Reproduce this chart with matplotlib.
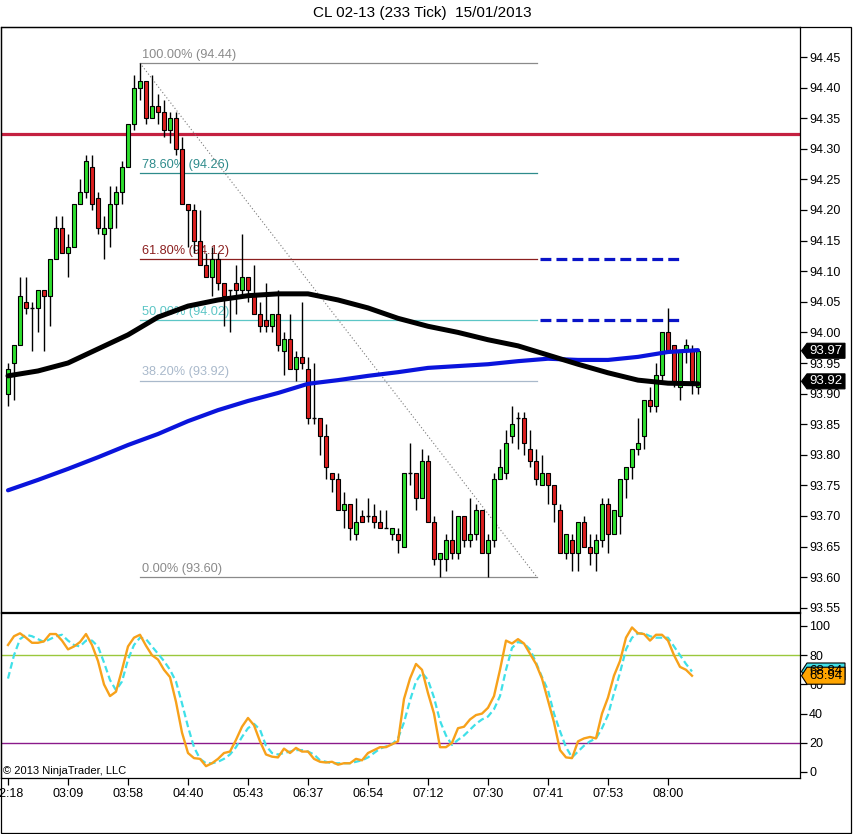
import matplotlib
matplotlib.use('Agg')
import matplotlib.pyplot as plt
import matplotlib.transforms as mtransforms
from matplotlib.patches import Polygon, Rectangle
import numpy as np

plt.rcParams['font.family'] = ['Liberation Sans', 'DejaVu Sans']

# ---------------- data ----------------
title = "CL 02-13 (233 Tick)  15/01/2013"

opens = [93.90, 93.95, 93.98, 94.05, 94.04, 94.04, 94.07, 94.06, 94.12, 94.17,
         94.13, 94.14, 94.21, 94.23, 94.27, 94.22, 94.16, 94.17, 94.21, 94.23,
         94.27, 94.34, 94.40, 94.41, 94.35, 94.37, 94.36, 94.33, 94.35, 94.30,
         94.21, 94.20, 94.15, 94.11, 94.09, 94.12, 94.08, 94.07, 94.08, 94.07,
         94.09, 94.06, 94.03, 94.02, 94.01, 94.03, 93.97, 93.99, 93.94, 93.96,
         93.94, 93.86, 93.86, 93.83, 93.77, 93.76, 93.71, 93.72, 93.67, 93.70,
         93.70, 93.70, 93.69, 93.68, 93.67, 93.67, 93.65, 93.77, 93.77, 93.73,
         93.79, 93.69, 93.63, 93.63, 93.66, 93.64, 93.70, 93.66, 93.67, 93.71,
         93.64, 93.66, 93.76, 93.77, 93.83, 93.86, 93.86, 93.81, 93.79, 93.75,
         93.77, 93.75, 93.71, 93.64, 93.66, 93.64, 93.69, 93.65, 93.64, 93.66,
         93.72, 93.67, 93.70, 93.76, 93.78, 93.81, 93.83, 93.89, 93.88, 93.93,
         94.00, 93.98, 93.91, 93.97, 93.97, 93.91]
highs = [93.95, 93.98, 94.09, 94.09, 94.05, 94.07, 94.07, 94.12, 94.19, 94.19,
         94.16, 94.21, 94.25, 94.29, 94.29, 94.23, 94.19, 94.24, 94.24, 94.28,
         94.34, 94.42, 94.44, 94.41, 94.42, 94.39, 94.38, 94.36, 94.36, 94.32,
         94.21, 94.21, 94.20, 94.13, 94.14, 94.13, 94.08, 94.07, 94.11, 94.16,
         94.09, 94.11, 94.05, 94.08, 94.03, 94.07, 94.00, 94.03, 93.97, 94.05,
         93.96, 93.95, 93.86, 93.85, 93.77, 93.77, 93.74, 93.72, 93.73, 93.71,
         93.73, 93.72, 93.71, 93.71, 93.68, 93.68, 93.77, 93.82, 93.77, 93.81,
         93.80, 93.70, 93.64, 93.67, 93.71, 93.70, 93.70, 93.73, 93.72, 93.71,
         93.67, 93.77, 93.81, 93.84, 93.88, 93.87, 93.87, 93.84, 93.81, 93.80,
         93.77, 93.75, 93.72, 93.67, 93.67, 93.69, 93.70, 93.67, 93.67, 93.73,
         93.73, 93.71, 93.76, 93.78, 93.81, 93.86, 93.89, 93.91, 93.95, 94.00,
         94.04, 93.98, 93.97, 93.99, 93.98, 93.97]
lows = [93.88, 93.89, 93.98, 94.03, 93.97, 94.00, 93.97, 94.01, 94.12, 94.13,
        94.09, 94.14, 94.21, 94.22, 94.20, 94.16, 94.12, 94.14, 94.17, 94.21,
        94.27, 94.33, 94.38, 94.34, 94.35, 94.34, 94.32, 94.31, 94.29, 94.21,
        94.14, 94.13, 94.11, 94.09, 94.06, 94.07, 94.01, 94.00, 94.03, 94.06,
        94.05, 94.03, 94.00, 94.00, 94.00, 93.97, 93.93, 93.94, 93.92, 93.94,
        93.85, 93.85, 93.80, 93.76, 93.74, 93.71, 93.68, 93.66, 93.66, 93.69,
        93.69, 93.68, 93.68, 93.68, 93.66, 93.64, 93.65, 93.75, 93.71, 93.73,
        93.69, 93.62, 93.60, 93.61, 93.63, 93.63, 93.65, 93.65, 93.66, 93.64,
        93.60, 93.65, 93.76, 93.76, 93.82, 93.81, 93.80, 93.78, 93.75, 93.75,
        93.72, 93.69, 93.64, 93.63, 93.61, 93.61, 93.65, 93.62, 93.61, 93.65,
        93.64, 93.67, 93.67, 93.73, 93.76, 93.80, 93.81, 93.87, 93.87, 93.92,
        93.97, 93.91, 93.89, 93.95, 93.90, 93.90]
closes = [93.94, 93.98, 94.06, 94.04, 94.04, 94.07, 94.06, 94.12, 94.17, 94.13,
          94.14, 94.21, 94.23, 94.28, 94.21, 94.17, 94.17, 94.21, 94.23, 94.27,
          94.34, 94.40, 94.41, 94.35, 94.37, 94.36, 94.33, 94.35, 94.30, 94.21,
          94.20, 94.15, 94.11, 94.09, 94.12, 94.08, 94.06, 94.07, 94.07, 94.09,
          94.07, 94.03, 94.01, 94.01, 94.03, 93.98, 93.99, 93.94, 93.96, 93.95,
          93.86, 93.86, 93.83, 93.78, 93.76, 93.71, 93.72, 93.68, 93.69, 93.69,
          93.70, 93.69, 93.68, 93.68, 93.68, 93.66, 93.77, 93.77, 93.73, 93.79,
          93.69, 93.63, 93.64, 93.66, 93.64, 93.70, 93.66, 93.67, 93.71, 93.64,
          93.66, 93.76, 93.78, 93.82, 93.85, 93.86, 93.82, 93.79, 93.76, 93.77,
          93.75, 93.72, 93.64, 93.67, 93.64, 93.69, 93.65, 93.64, 93.66, 93.72,
          93.67, 93.71, 93.76, 93.78, 93.81, 93.82, 93.89, 93.88, 93.93, 94.00,
          93.97, 93.92, 93.97, 93.98, 93.92, 93.97]

# moving averages, read every 5 bars
ma_idx = [0, 5, 10, 15, 20, 25, 30, 35, 40, 45, 50, 55, 60, 65, 70, 75, 80,
          85, 90, 95, 100, 105, 110, 115]
ma_black = [93.929, 93.937, 93.950, 93.973, 93.996, 94.025, 94.043,
            94.053, 94.060, 94.063, 94.063, 94.053, 94.040, 94.023, 94.010,
            94.000, 93.988, 93.978, 93.963, 93.948, 93.934, 93.922, 93.917,
            93.916]
blue_idx = [0, 5, 10, 15, 20, 25, 30, 35, 40, 45, 50, 55, 60, 65, 70, 75, 80,
            85, 90, 95, 100, 105, 110, 115]
ma_blue = [93.742, 93.759, 93.777, 93.796, 93.816, 93.834, 93.855, 93.873,
           93.888, 93.901, 93.916, 93.922, 93.929, 93.935, 93.942, 93.945,
           93.948, 93.953, 93.957, 93.955, 93.955, 93.960, 93.968, 93.971]

# stochastics
stoch_k = [87, 93, 95, 92, 88.5, 88.5, 89.5, 94.5, 94.5, 90,
           84, 86, 89, 94.5, 87, 76, 60, 52, 55, 70,
           86, 92, 94, 86.5, 80, 77, 70, 65, 48, 27,
           13, 9.5, 9, 4, 6, 9, 13, 14, 22, 31,
           37, 32, 21, 12, 10.5, 10, 16, 13, 16.5, 14,
           14, 9, 7, 6.5, 7, 5, 6, 6, 9, 8,
           13, 15, 17, 17, 19, 21, 50, 64, 74, 70,
           54, 40, 17, 17, 20, 30, 31, 36, 39, 40,
           44, 52, 70, 90, 88, 91, 88, 81, 74, 64,
           49, 34, 15, 10, 9.5, 21, 23, 24, 23, 40,
           51, 66, 76, 92, 99, 95, 94.5, 90, 94, 94,
           90, 80, 72, 70, 65.94]
stoch_d = [64, 80, 91, 94, 93, 91, 89, 91, 93, 94,
           90, 87, 86, 90, 90, 86, 75, 63, 56, 62,
           77, 87, 92, 91, 86, 81, 76, 70, 62, 47,
           31, 17, 9, 6, 6, 7, 9, 12, 17, 24,
           30, 33, 29, 18, 13, 12, 13, 14, 15, 15,
           14, 12, 8, 7, 6, 6, 6, 6, 7, 8,
           10, 13, 16, 17.5, 19, 23, 34, 49, 62, 68,
           63, 51, 35, 25, 18.5, 22, 25, 29, 33, 36,
           38, 43, 52, 70, 85, 89, 88, 84, 75, 65,
           56, 40, 28, 17, 10, 14, 18, 21, 23, 30,
           39, 54, 68, 84, 92, 95, 95, 93, 92, 92,
           92, 86, 80, 74, 68.84]

time_idx = [0, 10, 20, 30, 40, 50, 60, 70, 80, 90, 100, 110]
time_labels = ['02:18', '03:09', '03:58', '04:40', '05:43', '06:37', '06:54',
               '07:12', '07:30', '07:41', '07:53', '08:00']

price_ticks = [93.55, 93.60, 93.65, 93.70, 93.75, 93.80, 93.85, 93.90, 93.95,
               94.00, 94.05, 94.10, 94.15, 94.20, 94.25, 94.30, 94.35, 94.40, 94.45]
stoch_ticks = [0, 20, 40, 60, 80, 100]

fib_high, fib_low = 94.44, 93.60
fib_start, fib_end = 22, 88.17
fib_levels = [1.0, 0.786, 0.618, 0.5, 0.382, 0.0]
fib_colors = ['#8a8a8a', '#2e8b8b', '#8b1f1f', '#5cc6c6', '#a9b9cb', '#8a8a8a']

resistance = 94.325
target_levels = [94.12, 94.02]
target_start, target_end = 88.67, 112.33

flag_main = [(93.97, '93.97'), (93.92, '93.92')]

# ---------------- figure ----------------
W, H = 854, 834
fig = plt.figure(figsize=(W / 100, H / 100), dpi=100)
fig.patch.set_facecolor('white')


def fy(y):
    return 1 - y / H


ax = fig.add_axes([1 / W, fy(612), 799 / W, (612 - 27) / H])
ax2 = fig.add_axes([1 / W, fy(778), 799 / W, (778 - 613) / H])

xlim = (-7 / 6, 132)
ax.set_xlim(*xlim)
ax2.set_xlim(*xlim)
ax.set_ylim(94.45 - 555 / 612, 94.45 + 30 / 612)
ax2.set_ylim(-6 / 1.46, 100 + 13 / 1.46)

for a in (ax, ax2):
    for s in a.spines.values():
        s.set_linewidth(0.9)
        s.set_color('black')

o = np.array(opens); h = np.array(highs); l = np.array(lows); c = np.array(closes)
x = np.arange(len(o))

# wicks
ax.vlines(x, l, h, color='black', lw=1.0, zorder=3)
# bodies
body_w = 0.75
doji = np.isclose(o, c)
up = c > o
cols = np.where(up, '#2ee02e', '#dd1f1f')
nd = ~doji
ax.bar(x[nd], np.abs(c - o)[nd], bottom=np.minimum(o, c)[nd], width=body_w,
       color=cols[nd], edgecolor='black', linewidth=0.8, zorder=4)
ax.hlines(o[doji], x[doji] - body_w / 2, x[doji] + body_w / 2, color='black',
          lw=1.0, zorder=4)

# moving averages
ax.plot(blue_idx, ma_blue, color='#0a14dc', lw=3.0, zorder=5,
        solid_capstyle='round')
ax.plot(ma_idx, ma_black, color='black', lw=3.6, zorder=5,
        solid_capstyle='round')

# resistance line
ax.axhline(resistance, color='#c42040', lw=2.3, zorder=2)

# target dashed lines
for lv in target_levels:
    ax.plot([target_start, target_end], [lv, lv], color='#0a14c8', lw=2.3,
            dashes=(3.4, 1.6), zorder=2)

# fibonacci
rng = fib_high - fib_low
for lev, col in zip(fib_levels, fib_colors):
    p = fib_low + lev * rng
    ax.plot([fib_start, fib_end], [p, p], color=col, lw=0.9, zorder=2)
    ax.text(fib_start + 0.35, p + 0.004, f"{lev * 100:.2f}% ({p:.2f})",
            color=col, fontsize=9.2, ha='left', va='bottom', zorder=2)
ax.plot([fib_start, fib_end], [fib_high, fib_low], color='#7a7a7a', lw=0.8,
        dashes=(1, 2), zorder=2)

# y axis on right
ax.yaxis.tick_right()
ax.set_yticks(price_ticks)
ax.set_yticklabels([f"{t:.2f}" for t in price_ticks])
ax.tick_params(axis='y', direction='out', length=5, width=0.9, pad=1.5,
               labelsize=9)
ax.set_xticks([])

# flags


def flag(a, val, txt, half, fc, tc, ec):
    tr = mtransforms.blended_transform_factory(a.transAxes, a.transData)
    px = 1 / 799.0
    verts = [(1 + 1.5 * px, val), (1 + 7 * px, val + half),
             (1 + 45 * px, val + half), (1 + 45 * px, val - half),
             (1 + 7 * px, val - half)]
    poly = Polygon(verts, closed=True, transform=tr, facecolor=fc,
                   edgecolor=ec, lw=0.8, clip_on=False, zorder=10)
    a.add_patch(poly)
    a.text(1 + 26 * px, val, txt, transform=tr, ha='center', va='center',
           color=tc, fontsize=9.5, clip_on=False, zorder=11)


for val, txt in flag_main:
    flag(ax, val, txt, 7.5 / 612, 'black', 'white', 'black')

# stochastic panel
ax2.axhline(80, color='#9ac83c', lw=1.0, zorder=1)
ax2.axhline(20, color='#8a1a8a', lw=1.0, zorder=1)
ax2.plot(np.arange(len(stoch_d)), stoch_d, color='#3fe0e8', lw=1.6,
         dashes=(3, 1.6), zorder=3)
ax2.plot(np.arange(len(stoch_k)), stoch_k, color='#f7a11a', lw=1.7, zorder=4)
ax2.yaxis.tick_right()
ax2.set_yticks(stoch_ticks)
ax2.set_yticklabels([str(t) for t in stoch_ticks])
ax2.tick_params(axis='y', direction='out', length=5, width=0.9, pad=1.5,
                labelsize=9)
ax2.set_xticks(time_idx)
ax2.set_xticklabels(time_labels)
ax2.tick_params(axis='x', direction='out', length=5, width=0.9, pad=2,
                labelsize=9)

flag(ax2, stoch_d[-1], f"{stoch_d[-1]:.2f}", 8.5 / 1.46, '#3fe0e8', 'black', 'black')
flag(ax2, stoch_k[-1], f"{stoch_k[-1]:.2f}", 8.5 / 1.46, '#ffa500', 'black', 'black')

ax2.text(2 / 799, 0.015, '\u00a9 2013 NinjaTrader, LLC', transform=ax2.transAxes,
         fontsize=8, ha='left', va='bottom', color='black')

# title and frame
fig.text(422 / W, fy(13), title, ha='center', va='center', fontsize=11)
fig.add_artist(Rectangle((0.5 / W, fy(833)), 850.5 / W, (833 - 27) / H,
                         transform=fig.transFigure, fill=False,
                         edgecolor='black', lw=0.9))

fig.savefig('out.png', dpi=100)
